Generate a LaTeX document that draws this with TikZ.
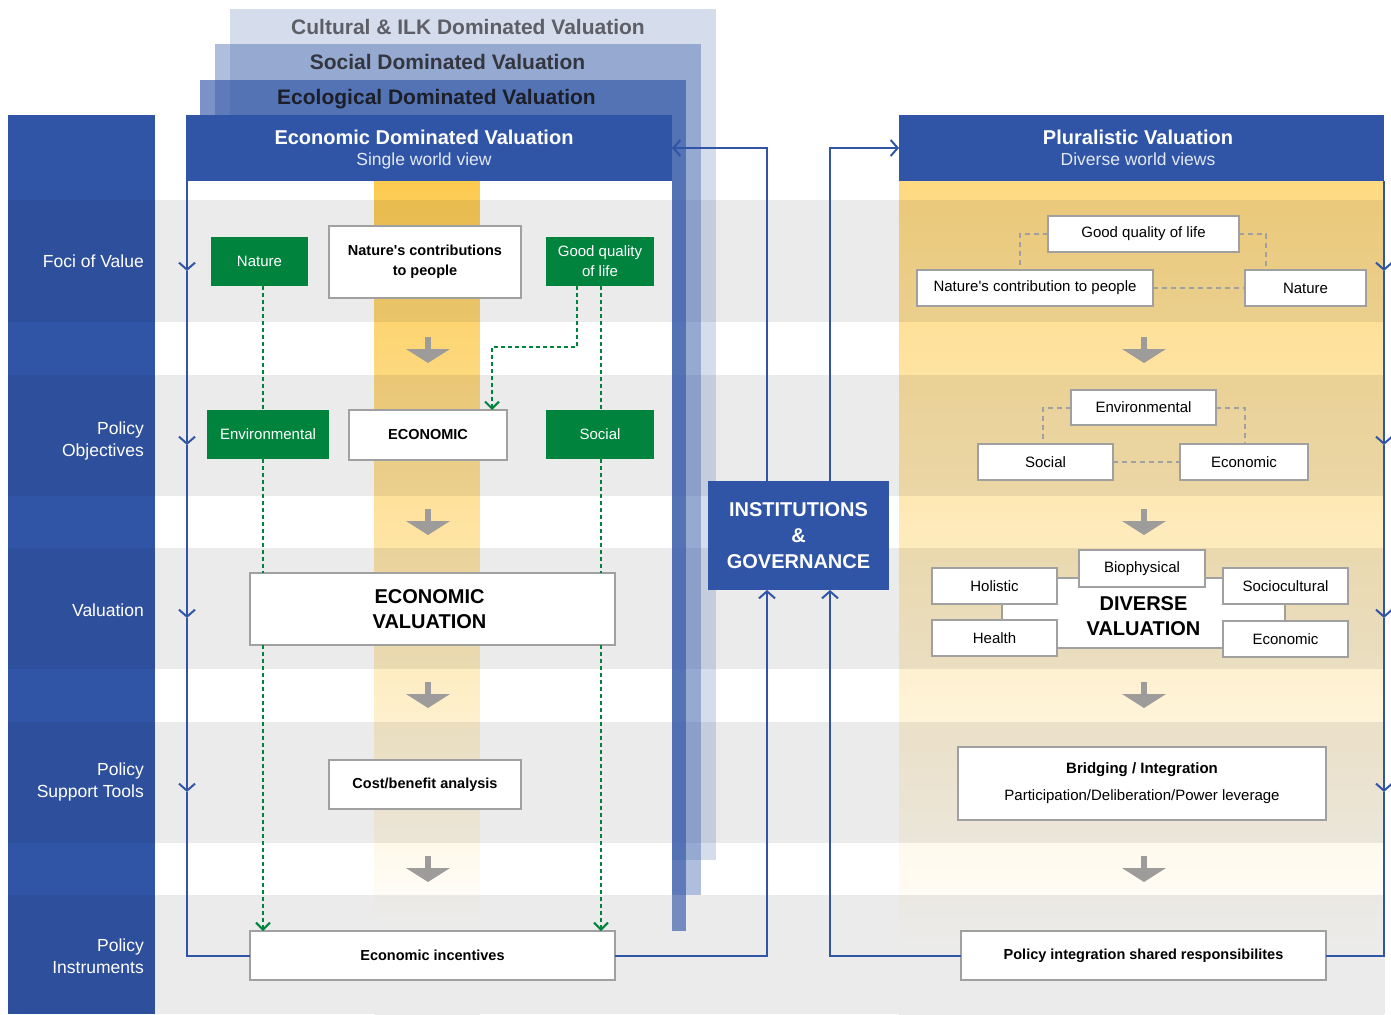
\documentclass[tikz,border=0pt]{standalone}
\usepackage{fontspec}
\setmainfont{Liberation Sans}
\usetikzlibrary{arrows.meta,calc}

\definecolor{hblue}{RGB}{48,85,166}
\definecolor{hbluedk}{RGB}{46,79,155}
\definecolor{bandgrey}{RGB}{235,235,235}
\definecolor{yel}{RGB}{253,203,82}
\definecolor{mulG}{RGB}{233,187,76}
\colorlet{baseG}{bandgrey}
\colorlet{mulW}{yel}
\colorlet{baseW}{white}
\definecolor{natgreen}{RGB}{0,132,61}
\definecolor{boxgrey}{RGB}{160,160,160}
\definecolor{arrgrey}{RGB}{158,155,155}
\definecolor{culttxt}{RGB}{94,95,102}
\definecolor{soctxt}{RGB}{52,54,63}
\definecolor{ecotxt}{RGB}{28,30,40}
\definecolor{subtxt}{RGB}{226,232,245}

% grey/white row bands: top/bottom/kind
\def\bandlist{181/200/W,200/322/G,322/375/W,375/496/G,496/548/W,548/669/G,669/722/W,722/843/G,843/895/W,895/1014/G}

% vertical yellow fade laid over the row bands
% #1 left x, #2 right x, #3 strength at y=190, #4 loss per unit of y
\newcommand\yellowfade[4]{%
  \foreach \ya/\yb/\bc in \bandlist {
    \foreach \k in {0,...,15} {
      \pgfmathsetmacro\stripH{(\yb-\ya)/16}
      \pgfmathsetmacro\stripY{\ya+\k*\stripH}
      \pgfmathtruncatemacro\alp{max(0,min(100,100*(#3-(\stripY+\stripH/2-190)*#4)))}
      \fill[fill=mul\bc!\alp!base\bc] (#1,\stripY) rectangle (#2,\stripY+\stripH+0.6);
    }
  }%
}
\newcommand\apos{\textquotesingle}

\begin{document}
\begin{tikzpicture}[x=1pt,y=-1pt,
  sz/.style 2 args={minimum width=#1pt, minimum height=#2pt},
  wbox/.style={draw=boxgrey, line width=2pt, fill=white, inner sep=0pt, outer sep=0pt,
    align=center, font=\fontsize{15}{20}\selectfont},
  gbox/.style={fill=natgreen, text=white, inner sep=0pt, outer sep=0pt, align=center,
    font=\fontsize{15}{20}\selectfont},
  bb/.style={font=\fontsize{14.5}{20}\selectfont\bfseries},
  big/.style={font=\fontsize{20}{25}\selectfont\bfseries},
  fb/.style={draw=hblue, line width=2pt, -{Straight Barb[length=7pt,width=16pt]}},
  fbl/.style={draw=hblue, line width=2pt},
  gdash/.style={draw=natgreen, line width=2pt, dash pattern=on 4pt off 3pt},
  gdasharr/.style={gdash, -{Straight Barb[length=7pt,width=14pt]}},
  ydash/.style={draw=boxgrey, line width=2pt, dash pattern=on 5pt off 4pt},
  lbl/.style={text=white, anchor=east, align=right, inner sep=0pt,
    font=\fontsize{17.5}{22}\selectfont},
  stk/.style={anchor=base, font=\fontsize{21}{24}\selectfont\bfseries},
  darr/.pic={\fill[arrgrey] (-3,0) rectangle (3,13);
             \fill[arrgrey] (-22,12) -- (22,12) -- (0,26) -- cycle;},
]
\useasboundingbox (0,0) rectangle (1391,1014);
\fill[white] (0,0) rectangle (1391,1014);

% row bands
\foreach \ya/\yb in {200/322,375/496,548/669,722/843,895/1014}
  \fill[bandgrey] (155,\ya) rectangle (1385,\yb);

% stacked alternative valuation panels
\fill[hblue, fill opacity=0.2] (230,9) rectangle (716,860);
\fill[hblue, fill opacity=0.38] (215,44) rectangle (701,895);
\fill[hblue, fill opacity=0.64] (200,80) rectangle (686,931);
\node[stk, text=culttxt] at (468,35) {Cultural \& ILK Dominated Valuation};
\node[stk, text=soctxt] at (447.5,70) {Social Dominated Valuation};
\node[stk, text=ecotxt] at (436.5,105) {Ecological Dominated Valuation};

% body of the economic panel
\fill[white] (186,181) rectangle (672,1014);
\foreach \ya/\yb in {200/322,375/496,548/669,722/843,895/1014}
  \fill[bandgrey] (186,\ya) rectangle (672,\yb);

% yellow emphasis: economic column and pluralistic panel
\yellowfade{374}{480}{1}{0.00135}
\yellowfade{899}{1384}{0.72}{0.00093}

% row label column
\fill[hblue] (8,115) rectangle (155,1014);
\foreach \ya/\yb in {200/322,375/496,548/669,722/843,895/1014}
  \fill[hbluedk] (8,\ya) rectangle (155,\yb);
\node[lbl] at (144,261) {Foci of Value};
\node[lbl] at (144,441) {Policy\\Objectives};
\node[lbl] at (144,610) {Valuation};
\node[lbl] at (144,782) {Policy\\Support Tools};
\node[lbl] at (144,956) {Policy\\Instruments};

% headers
\node[fill=hblue, sz={486}{66}, inner sep=0pt, outer sep=0pt] (eh) at (429,148) {};
\node[anchor=base, text=white, font=\fontsize{20}{24}\selectfont\bfseries] at (424,144.5) {Economic Dominated Valuation};
\node[anchor=base, text=subtxt, font=\fontsize{17.5}{20}\selectfont] at (424,165.5) {Single world view};
\node[fill=hblue, sz={485}{66}, inner sep=0pt, outer sep=0pt] (ph) at (1141.5,148) {};
\node[anchor=base, text=white, font=\fontsize{20}{24}\selectfont\bfseries] at (1138,144.5) {Pluralistic Valuation};
\node[anchor=base, text=subtxt, font=\fontsize{17.5}{20}\selectfont] at (1138,165.5) {Diverse world views};

% step arrows
\foreach \yy in {337,509,682,856} {
  \pic at (428,\yy) {darr};
  \pic at (1144,\yy) {darr};
}

% economic panel boxes
\node[gbox, sz={97}{49}] (nat) at (259.5,261.5) {Nature};
\node[wbox, sz={192}{72}, bb] (ncp) at (425,262) {Nature\apos s contributions\\to people};
\node[gbox, sz={108}{49}] (gql) at (600,261.5) {Good quality\\of life};
\node[gbox, sz={122}{49}] (env) at (268,434.5) {Environmental};
\node[wbox, sz={158}{50}, bb] (eco) at (428,435) {ECONOMIC};
\node[gbox, sz={108}{49}] (soc) at (600,434.5) {Social};
\node[wbox, sz={365}{72}] (ev) at (432.5,609) {};
\node[big, align=center] (evt) at (429.5,609.5) {ECONOMIC\\VALUATION};
\node[wbox, sz={192}{49}, bb] (cba) at (425,784.5) {Cost/benefit analysis};
\node[wbox, sz={365}{49}, bb] (ei) at (432.5,955.5) {Economic incentives};

% pluralistic panel boxes
\node[wbox, sz={191}{36}] (rgql) at (1143.5,234) {Good quality of life};
\node[wbox, sz={236}{36}] (rncp) at (1035,288) {Nature\apos s contribution to people};
\node[wbox, sz={121}{36}] (rnat) at (1305.5,288) {Nature};
\node[wbox, sz={145}{35}] (renv) at (1143.5,407.5) {Environmental};
\node[wbox, sz={135}{36}] (rsoc) at (1045.5,462) {Social};
\node[wbox, sz={128}{36}] (reco) at (1244,462) {Economic};
\node[wbox, sz={283}{70}] (dv) at (1143.5,613) {};
\node[big, anchor=center, align=center] (dvt) at (1143.5,616.5) {DIVERSE\\VALUATION};
\node[wbox, sz={126}{37}] (bio) at (1142,568.5) {Biophysical};
\node[wbox, sz={125}{36}] (hol) at (994.5,586) {Holistic};
\node[wbox, sz={125}{36}] (scu) at (1285.5,586) {Sociocultural};
\node[wbox, sz={125}{36}] (hea) at (994.5,638) {Health};
\node[wbox, sz={125}{36}] (ec2) at (1285.5,639) {Economic};
\node[wbox, sz={368}{73}] (brid) at (1142,783.5) {\textbf{Bridging / Integration}\\[7pt]Participation/Deliberation/Power leverage};
\node[wbox, sz={365}{49}, bb] (pol) at (1143.5,955.5) {Policy integration shared responsibilites};

% institutions
\node[fill=hblue, text=white, sz={181}{109}, inner sep=0pt, outer sep=0pt, align=center,
  font=\fontsize{20}{26}\selectfont\bfseries] (inst) at (798.5,535.5) {INSTITUTIONS\\\&\\GOVERNANCE};

% green links in the economic panel
\coordinate (gA) at (263,0);
\coordinate (gB) at (601,0);
\coordinate (gC) at (577,0);
\coordinate (gD) at (492,0);
\draw[gdash] (gA |- nat.south) -- (gA |- env.north);
\draw[gdash] (gA |- env.south) -- (gA |- ev.north);
\draw[gdasharr] (gA |- ev.south) -- (gA |- ei.north);
\draw[gdash] (gB |- gql.south) -- (gB |- soc.north);
\draw[gdash] (gB |- soc.south) -- (gB |- ev.north);
\draw[gdasharr] (gB |- ev.south) -- (gB |- ei.north);
\coordinate (gE) at (577,347);
\draw[gdasharr] (gC |- gql.south) -- (gE) -| (gD |- eco.north);

% grey links in the pluralistic panel
\coordinate (dA) at (1020,0);
\coordinate (dB) at (1266,0);
\coordinate (dC) at (1043,0);
\coordinate (dD) at (1245,0);
\draw[ydash] (rgql.west) -| (dA |- rncp.north);
\draw[ydash] (rgql.east) -| (dB |- rnat.north);
\draw[ydash] (rncp.east) -- (rnat.west);
\draw[ydash] (renv.west) -| (dC |- rsoc.north);
\draw[ydash] (renv.east) -| (dD |- reco.north);
\draw[ydash] (rsoc.east) -- (reco.west);

% feedback loops
\coordinate (LL) at (187,0);
\coordinate (RR) at (1384,0);
\coordinate (L1) at (767,0);
\coordinate (L2) at (830,0);
\coordinate (t1) at (0,271);
\coordinate (t2) at (0,445);
\coordinate (t3) at (0,618);
\coordinate (t4) at (0,792);
\draw[fb] (LL |- eh.south) -- (LL |- t1);
\draw[fb] (LL |- t1) -- (LL |- t2);
\draw[fb] (LL |- t2) -- (LL |- t3);
\draw[fb] (LL |- t3) -- (LL |- t4);
\draw[fbl] (LL |- t4) |- (ei.west);
\draw[fb] (RR |- ph.south) -- (RR |- t1);
\draw[fb] (RR |- t1) -- (RR |- t2);
\draw[fb] (RR |- t2) -- (RR |- t3);
\draw[fb] (RR |- t3) -- (RR |- t4);
\draw[fbl] (RR |- t4) |- (pol.east);
\draw[fb] (ei.east) -| (L1 |- inst.south);
\draw[fb] (L1 |- inst.north) |- (eh.east);
\draw[fb] (pol.west) -| (L2 |- inst.south);
\draw[fb] (L2 |- inst.north) |- (ph.west);
\end{tikzpicture}
\end{document}
